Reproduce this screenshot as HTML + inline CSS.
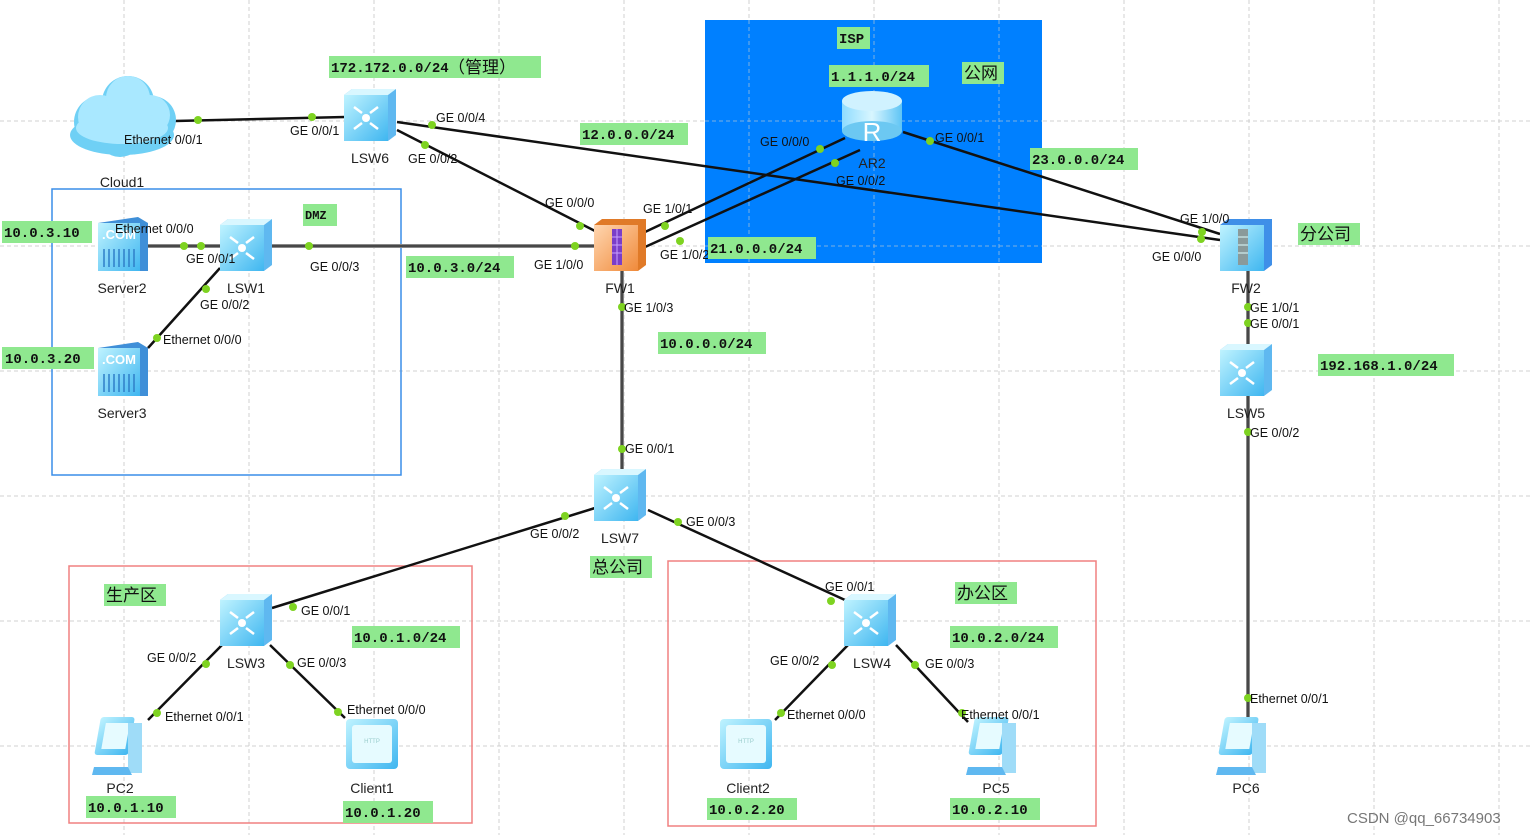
<!DOCTYPE html>
<html><head><meta charset="utf-8"><style>
html,body{margin:0;padding:0;background:#fff;}
svg{display:block;}
.p{font-family:"Liberation Sans",sans-serif;font-size:12.5px;fill:#111;}
.n{font-family:"Liberation Sans",sans-serif;font-size:14px;fill:#222;text-anchor:middle;}
.g{fill:#8fe88f;}
.ip{font-family:"Liberation Mono","DejaVu Sans Mono",monospace;font-size:14px;fill:#111;font-weight:bold;}
.cj{font-family:"Liberation Sans","Noto Sans CJK SC",sans-serif;font-size:17px;fill:#111;}
</style></head><body>
<svg width="1532" height="835" viewBox="0 0 1532 835" xmlns="http://www.w3.org/2000/svg">
<defs>
<linearGradient id="sw" x1="0" y1="0" x2="1" y2="1"><stop offset="0" stop-color="#bff3ff"/><stop offset="1" stop-color="#3fb6f0"/></linearGradient>
<linearGradient id="fw" x1="0" y1="0" x2="1" y2="1"><stop offset="0" stop-color="#ffd6b0"/><stop offset="1" stop-color="#f08a3a"/></linearGradient>
<linearGradient id="rt" x1="0" y1="0" x2="1" y2="0"><stop offset="0" stop-color="#8fdcff"/><stop offset="0.5" stop-color="#d8f6ff"/><stop offset="1" stop-color="#5ec4f5"/></linearGradient>
<g id="swi"><path d="M-26,-20 L-18,-26 L26,-26 L26,20 L18,26 L-26,26 Z" fill="#5fb8f0"/><rect x="-26" y="-20" width="44" height="46" fill="url(#sw)"/><path d="M-26,-20 L-18,-26 L26,-26 L18,-20 Z" fill="#d9f7ff"/><circle cx="-4" cy="3" r="4" fill="#fff"/><path d="M-16,-8 L-8,-2 M8,-8 L0,-2 M-16,14 L-8,8 M8,14 L0,8" stroke="#fff" stroke-width="2.5"/></g>
<g id="pc"><rect x="-26" y="-28" width="34" height="38" rx="3" fill="url(#sw)" transform="skewX(-10)"/><rect x="-20" y="-22" width="24" height="26" fill="#e6fbff" transform="skewX(-10)"/><rect x="6" y="-22" width="14" height="50" fill="#9fdcf8"/><path d="M-28,22 L6,22 L10,30 L-30,30 Z" fill="#5fb8f0"/></g>
<g id="cl"><rect x="-26" y="-26" width="52" height="50" rx="4" fill="url(#sw)"/><rect x="-20" y="-20" width="40" height="38" rx="3" fill="#e6fbff"/><text x="0" y="-2" font-size="6" fill="#9cc" text-anchor="middle" font-family="Liberation Sans">HTTP</text></g>
<g id="sv"><path d="M-24,-22 L16,-28 L26,-22 L26,26 L-24,26 Z" fill="#3f8fd8"/><rect x="-24" y="-22" width="42" height="48" fill="url(#sw)"/><text x="-3" y="-6" font-size="13" fill="#fff" font-weight="bold" text-anchor="middle" font-family="Liberation Sans">.COM</text><path d="M-18,4 v18 M-13,4 v18 M-8,4 v18 M-3,4 v18 M2,4 v18 M7,4 v18 M12,4 v18" stroke="#2f7fc8" stroke-width="1.5"/></g>
</defs>
<g stroke="#d0d0d0" stroke-dasharray="4,3" stroke-width="1">
<line x1="124" y1="0" x2="124" y2="835"/><line x1="249" y1="0" x2="249" y2="835"/><line x1="374" y1="0" x2="374" y2="835"/><line x1="499" y1="0" x2="499" y2="835"/><line x1="624" y1="0" x2="624" y2="835"/><line x1="749" y1="0" x2="749" y2="835"/><line x1="874" y1="0" x2="874" y2="835"/><line x1="999" y1="0" x2="999" y2="835"/><line x1="1124" y1="0" x2="1124" y2="835"/><line x1="1249" y1="0" x2="1249" y2="835"/><line x1="1374" y1="0" x2="1374" y2="835"/><line x1="1499" y1="0" x2="1499" y2="835"/>
<line x1="0" y1="121" x2="1532" y2="121"/><line x1="0" y1="246" x2="1532" y2="246"/><line x1="0" y1="371" x2="1532" y2="371"/><line x1="0" y1="496" x2="1532" y2="496"/><line x1="0" y1="621" x2="1532" y2="621"/><line x1="0" y1="746" x2="1532" y2="746"/>
</g>
<rect x="705" y="20" width="337" height="243" fill="#0080ff"/>
<g stroke="#d0d0d0" stroke-dasharray="4,3" opacity="0.6"><line x1="749" y1="20" x2="749" y2="263"/><line x1="874" y1="20" x2="874" y2="263"/><line x1="999" y1="20" x2="999" y2="263"/><line x1="705" y1="121" x2="1042" y2="121"/><line x1="705" y1="246" x2="1042" y2="246"/></g>
<rect x="52" y="189" width="349" height="286" fill="none" stroke="#3a8ee8" stroke-width="1.5"/>
<rect x="69" y="566" width="403" height="257" fill="none" stroke="#f08080" stroke-width="1.5"/>
<rect x="668" y="561" width="428" height="265" fill="none" stroke="#f08080" stroke-width="1.5"/>
<g stroke="#111" stroke-width="2.5" fill="none">
<line x1="175" y1="121" x2="345" y2="117"/>
<line x1="397" y1="122" x2="1220" y2="240"/>
<line x1="397" y1="130" x2="597" y2="232"/>
<line x1="645" y1="232" x2="845" y2="138"/>
<line x1="645" y1="247" x2="860" y2="150"/>
<line x1="903" y1="132" x2="1220" y2="234"/>
<line x1="220" y1="268" x2="148" y2="348"/>
<line x1="595" y1="508" x2="272" y2="608"/>
<line x1="648" y1="510" x2="845" y2="600"/>
<line x1="222" y1="645" x2="148" y2="720"/>
<line x1="270" y1="645" x2="345" y2="718"/>
<line x1="848" y1="645" x2="775" y2="720"/>
<line x1="896" y1="645" x2="968" y2="722"/>
</g>
<g stroke="#888" stroke-width="4"><line x1="148" y1="246" x2="597" y2="246"/><line x1="622" y1="270" x2="622" y2="470"/><line x1="1248" y1="270" x2="1248" y2="345"/><line x1="1248" y1="395" x2="1248" y2="720"/></g>
<g stroke="#333" stroke-width="1.5"><line x1="148" y1="246" x2="597" y2="246"/><line x1="622" y1="270" x2="622" y2="470"/><line x1="1248" y1="270" x2="1248" y2="345"/><line x1="1248" y1="395" x2="1248" y2="720"/></g>
<g fill="#7ed321">
<circle cx="198" cy="120" r="4"/><circle cx="312" cy="117" r="4"/><circle cx="432" cy="125" r="4"/><circle cx="1201" cy="239" r="4"/><circle cx="425" cy="145" r="4"/><circle cx="580" cy="226" r="4"/><circle cx="665" cy="226" r="4"/><circle cx="820" cy="149" r="4"/><circle cx="680" cy="241" r="4"/><circle cx="835" cy="163" r="4"/><circle cx="930" cy="141" r="4"/><circle cx="1202" cy="232" r="4"/><circle cx="184" cy="246" r="4"/><circle cx="201" cy="246" r="4"/><circle cx="309" cy="246" r="4"/><circle cx="575" cy="246" r="4"/><circle cx="206" cy="289" r="4"/><circle cx="157" cy="338" r="4"/><circle cx="622" cy="307" r="4"/><circle cx="622" cy="449" r="4"/><circle cx="1248" cy="307" r="4"/><circle cx="1248" cy="323" r="4"/><circle cx="1248" cy="432" r="4"/><circle cx="1248" cy="698" r="4"/><circle cx="565" cy="516" r="4"/><circle cx="293" cy="607" r="4"/><circle cx="678" cy="522" r="4"/><circle cx="831" cy="601" r="4"/><circle cx="206" cy="664" r="4"/><circle cx="157" cy="713" r="4"/><circle cx="290" cy="665" r="4"/><circle cx="338" cy="712" r="4"/><circle cx="832" cy="665" r="4"/><circle cx="781" cy="713" r="4"/><circle cx="915" cy="665" r="4"/><circle cx="962" cy="713" r="4"/>
</g>
<!-- cloud -->
<g fill="#6fd0f5"><circle cx="100" cy="122" r="26"/><circle cx="128" cy="102" r="26"/><circle cx="152" cy="120" r="24"/><circle cx="120" cy="135" r="22"/><ellipse cx="122" cy="135" rx="52" ry="20"/></g>
<g fill="#a9e8ff"><circle cx="100" cy="117" r="22"/><circle cx="128" cy="98" r="22"/><circle cx="150" cy="115" r="20"/><ellipse cx="122" cy="128" rx="46" ry="16"/></g>
<use href="#swi" x="370" y="115"/><use href="#swi" x="246" y="245"/><use href="#swi" x="1246" y="370"/><use href="#swi" x="620" y="495"/><use href="#swi" x="246" y="620"/><use href="#swi" x="870" y="620"/>
<!-- FW1 -->
<g transform="translate(620,245)"><path d="M-26,-20 L-18,-26 L26,-26 L26,20 L18,26 L-26,26 Z" fill="#e07a28"/><rect x="-26" y="-20" width="44" height="46" fill="url(#fw)"/><rect x="-8" y="-16" width="10" height="36" fill="#7a3ec8"/><path d="M-8,-8 h10 M-8,0 h10 M-8,8 h10 M-3,-16 v36" stroke="#c9a0ff" stroke-width="1"/></g>
<!-- FW2 -->
<g transform="translate(1246,245)"><path d="M-26,-20 L-18,-26 L26,-26 L26,20 L18,26 L-26,26 Z" fill="#3f8fe8"/><rect x="-26" y="-20" width="44" height="46" fill="url(#sw)"/><rect x="-8" y="-16" width="10" height="36" fill="#8a9a9a"/><path d="M-8,-8 h10 M-8,0 h10 M-8,8 h10" stroke="#dff" stroke-width="1"/></g>
<!-- AR2 -->
<g transform="translate(872,117)"><rect x="-30" y="-16" width="60" height="30" fill="url(#rt)"/><ellipse cx="0" cy="14" rx="30" ry="10" fill="#6cc8f2"/><ellipse cx="0" cy="-16" rx="30" ry="10" fill="#d0f2ff"/><text x="0" y="24" font-size="26" fill="#fff" text-anchor="middle" font-family="Liberation Sans">R</text></g>
<use href="#sv" x="122" y="245"/><use href="#sv" x="122" y="370"/>
<use href="#pc" x="122" y="745"/><use href="#pc" x="996" y="745"/><use href="#pc" x="1246" y="745"/>
<use href="#cl" x="372" y="745"/><use href="#cl" x="746" y="745"/>
<g class="n">
<text x="122" y="187">Cloud1</text><text x="370" y="163">LSW6</text><text x="620" y="293">FW1</text><text x="872" y="168">AR2</text><text x="1246" y="293">FW2</text><text x="246" y="293">LSW1</text><text x="122" y="293">Server2</text><text x="122" y="418">Server3</text><text x="1246" y="418">LSW5</text><text x="620" y="543">LSW7</text><text x="246" y="668">LSW3</text><text x="872" y="668">LSW4</text><text x="120" y="793">PC2</text><text x="372" y="793">Client1</text><text x="748" y="793">Client2</text><text x="996" y="793">PC5</text><text x="1246" y="793">PC6</text>
</g>
<g class="p">
<text x="124" y="144">Ethernet 0/0/1</text><text x="290" y="135">GE 0/0/1</text><text x="436" y="122">GE 0/0/4</text><text x="408" y="163">GE 0/0/2</text><text x="545" y="207">GE 0/0/0</text><text x="643" y="213">GE 1/0/1</text><text x="534" y="269">GE 1/0/0</text><text x="660" y="259">GE 1/0/2</text><text x="624" y="312">GE 1/0/3</text><text x="760" y="146">GE 0/0/0</text><text x="836" y="185">GE 0/0/2</text><text x="935" y="142">GE 0/0/1</text><text x="1180" y="223">GE 1/0/0</text><text x="1152" y="261">GE 0/0/0</text><text x="1250" y="312">GE 1/0/1</text><text x="1250" y="328">GE 0/0/1</text><text x="1250" y="437">GE 0/0/2</text><text x="1250" y="703">Ethernet 0/0/1</text><text x="115" y="233">Ethernet 0/0/0</text><text x="186" y="263">GE 0/0/1</text><text x="310" y="271">GE 0/0/3</text><text x="200" y="309">GE 0/0/2</text><text x="163" y="344">Ethernet 0/0/0</text><text x="625" y="453">GE 0/0/1</text><text x="530" y="538">GE 0/0/2</text><text x="686" y="526">GE 0/0/3</text><text x="301" y="615">GE 0/0/1</text><text x="147" y="662">GE 0/0/2</text><text x="297" y="667">GE 0/0/3</text><text x="165" y="721">Ethernet 0/0/1</text><text x="347" y="714">Ethernet 0/0/0</text><text x="825" y="591">GE 0/0/1</text><text x="770" y="665">GE 0/0/2</text><text x="925" y="668">GE 0/0/3</text><text x="787" y="719">Ethernet 0/0/0</text><text x="961" y="719">Ethernet 0/0/1</text>
</g>
<g class="g">
<rect x="329" y="56" width="212" height="22"/><rect x="580" y="123" width="108" height="22"/><rect x="837" y="27" width="33" height="22"/><rect x="829" y="65" width="100" height="22"/><rect x="962" y="62" width="42" height="22"/><rect x="1030" y="148" width="108" height="22"/><rect x="1298" y="223" width="62" height="22"/><rect x="708" y="237" width="108" height="22"/><rect x="303" y="204" width="34" height="22"/><rect x="2" y="221" width="90" height="22"/><rect x="2" y="347" width="92" height="22"/><rect x="406" y="256" width="108" height="22"/><rect x="658" y="332" width="108" height="22"/><rect x="1318" y="354" width="136" height="22"/><rect x="590" y="556" width="62" height="22"/><rect x="104" y="584" width="62" height="22"/><rect x="955" y="582" width="62" height="22"/><rect x="352" y="626" width="108" height="22"/><rect x="950" y="626" width="108" height="22"/><rect x="86" y="796" width="90" height="22"/><rect x="343" y="801" width="90" height="22"/><rect x="707" y="798" width="90" height="22"/><rect x="950" y="798" width="90" height="22"/>
</g>
<g class="ip">
<text x="331" y="72">172.172.0.0/24</text><text x="582" y="139">12.0.0.0/24</text><text x="839" y="43">ISP</text><text x="831" y="81">1.1.1.0/24</text><text x="1032" y="164">23.0.0.0/24</text><text x="710" y="253">21.0.0.0/24</text><text x="305" y="219" font-size="12">DMZ</text><text x="4" y="237">10.0.3.10</text><text x="5" y="363">10.0.3.20</text><text x="408" y="272">10.0.3.0/24</text><text x="660" y="348">10.0.0.0/24</text><text x="1320" y="370">192.168.1.0/24</text><text x="354" y="642">10.0.1.0/24</text><text x="952" y="642">10.0.2.0/24</text><text x="88" y="812">10.0.1.10</text><text x="345" y="817">10.0.1.20</text><text x="709" y="814">10.0.2.20</text><text x="952" y="814">10.0.2.10</text>
</g>
<g class="cj">
<text x="448" y="73">（管理）</text><text x="964" y="79">公网</text><text x="1300" y="240">分公司</text><text x="592" y="573">总公司</text><text x="106" y="601">生产区</text><text x="957" y="599">办公区</text>
</g>
<text x="1347" y="823" font-family="Liberation Sans" font-size="15" fill="#777">CSDN @qq_66734903</text>
</svg>
</body></html>
